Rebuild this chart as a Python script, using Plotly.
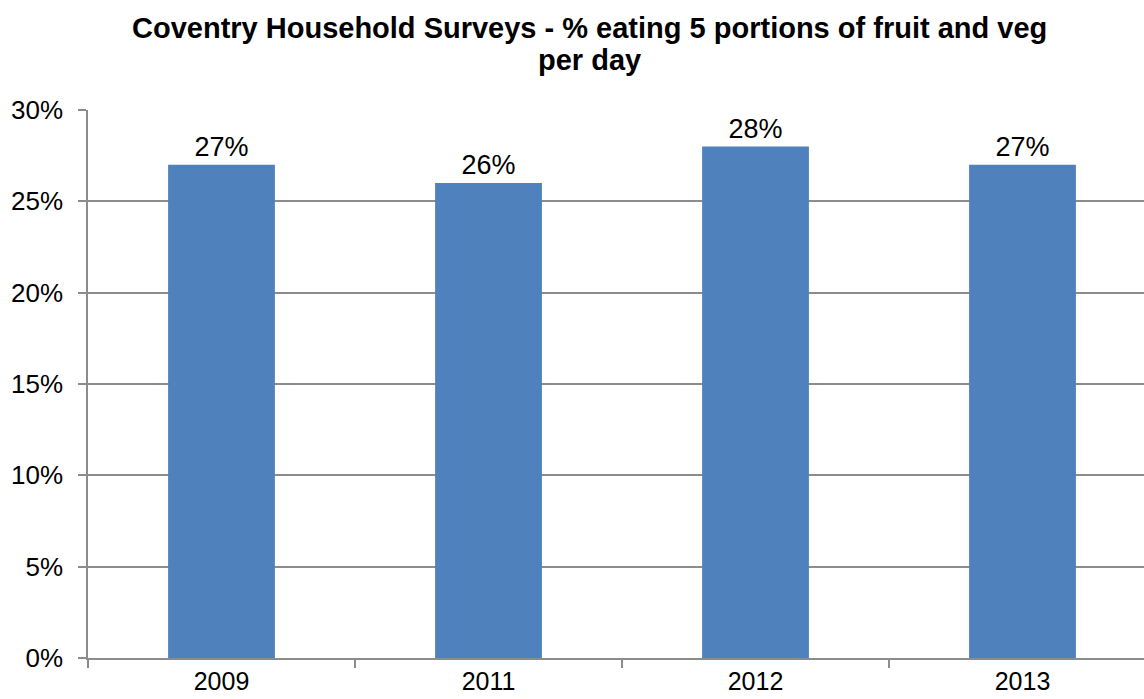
import plotly.graph_objects as go

# Survey years and share of respondents eating 5 portions a day
years = ["2009", "2011", "2012", "2013"]
share = [0.27, 0.26, 0.28, 0.27]
labels = ["27%", "26%", "28%", "27%"]

y_ticks = [0, 0.05, 0.10, 0.15, 0.20, 0.25, 0.30]
y_tick_text = ["0%", "5%", "10%", "15%", "20%", "25%", "30%"]

title_lines = [
    "Coventry Household Surveys - % eating 5 portions of fruit and veg",
    "per day",
]

FONT = "Liberation Sans, Arial, sans-serif"
GRID = "#8c8c8c"

H = 699
TOP, BOTTOM = 110, 41
plot_h = H - TOP - BOTTOM


def paper_y(py):
    # convert a pixel row (from top of page) to paper coordinates
    return (H - BOTTOM - py) / plot_h


fig = go.Figure(
    go.Bar(
        x=years,
        y=share,
        text=labels,
        textposition="outside",
        textfont=dict(family=FONT, size=27, color="#000000"),
        marker=dict(color="#4F81BD", line=dict(width=0)),
        width=0.4,
        cliponaxis=False,
    )
)

fig.update_layout(
    width=1144,
    height=H,
    margin=dict(l=88, r=0, t=TOP, b=BOTTOM),
    paper_bgcolor="white",
    plot_bgcolor="white",
    showlegend=False,
    font=dict(family=FONT, color="#000000"),
)

for i, line in enumerate(title_lines):
    fig.add_annotation(
        text="<b>" + line + "</b>",
        xref="paper",
        yref="paper",
        x=(589 - 88) / (1144 - 88),
        y=paper_y(28 + 32 * i),
        xanchor="center",
        yanchor="middle",
        showarrow=False,
        font=dict(family=FONT, size=29, color="#000000"),
    )

fig.update_xaxes(
    type="category",
    range=[-0.5, 3.455],
    tickson="boundaries",
    ticks="outside",
    ticklen=8,
    tickcolor=GRID,
    tickwidth=1.5,
    showgrid=False,
    showline=True,
    linecolor=GRID,
    linewidth=1.5,
    tickfont=dict(family=FONT, size=25, color="#000000"),
    automargin=False,
)

fig.update_yaxes(
    range=[0, 0.30],
    tickvals=y_ticks,
    ticktext=y_tick_text,
    ticks="outside",
    ticklen=8,
    tickcolor=GRID,
    tickwidth=1.5,
    showgrid=True,
    gridcolor=GRID,
    gridwidth=1.5,
    showline=True,
    linecolor=GRID,
    linewidth=1.5,
    zeroline=False,
    ticklabelstandoff=10,
    tickfont=dict(family=FONT, size=26, color="#000000"),
    automargin=False,
)

fig.write_html("out.html")
